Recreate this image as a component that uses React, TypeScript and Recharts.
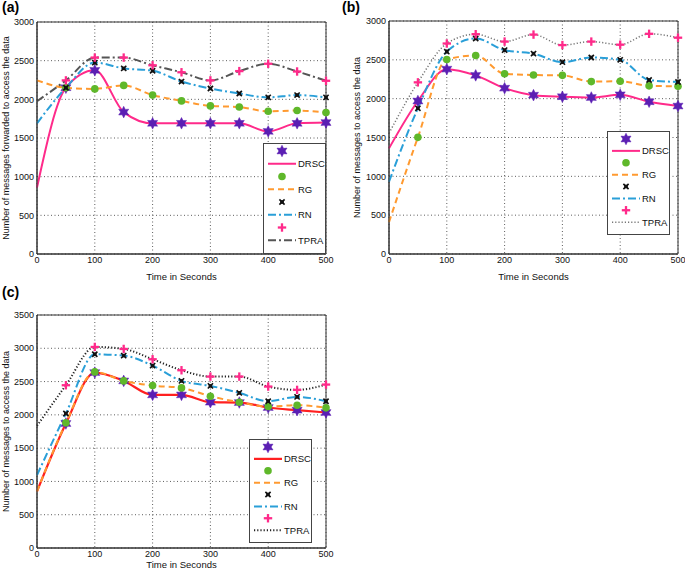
import React from 'react';
import { LineChart, Line, XAxis, YAxis, CartesianGrid, ReferenceArea, Label } from 'recharts';

const time = [0, 50, 100, 150, 200, 250, 300, 350, 400, 450, 500];
const xTicks = [0, 100, 200, 300, 400, 500];
const yTicksAB = [0, 500, 1000, 1500, 2000, 2500, 3000];
const yTicksC = [0, 500, 1000, 1500, 2000, 2500, 3000, 3500];
const seriesNames = ['DRSC', 'RG', 'RN', 'TPRA'];

const aDRSC = [860, 2150, 2375, 1835, 1690, 1690, 1690, 1690, 1585, 1690, 1700];
const aRG = [2245, 2150, 2135, 2180, 2055, 1980, 1915, 1900, 1845, 1855, 1830];
const aRN = [1690, 2150, 2475, 2400, 2370, 2230, 2140, 2075, 2025, 2055, 2025];
const aTPRA = [1975, 2245, 2540, 2540, 2440, 2350, 2245, 2365, 2460, 2360, 2240];

const bDRSC = [1360, 1970, 2380, 2300, 2135, 2045, 2025, 2015, 2050, 1960, 1905];
const bRG = [410, 1502, 2505, 2555, 2320, 2305, 2300, 2220, 2225, 2165, 2160];
const bRN = [930, 1876, 2605, 2775, 2625, 2580, 2470, 2530, 2500, 2240, 2215];
const bTPRA = [1555, 2210, 2710, 2830, 2735, 2825, 2690, 2735, 2695, 2835, 2785];

const cDRSC = [850, 1870, 2635, 2510, 2300, 2300, 2190, 2185, 2110, 2070, 2035];
const cRG = [850, 1880, 2645, 2510, 2440, 2405, 2280, 2190, 2125, 2145, 2105];
const cRN = [1095, 2020, 2910, 2890, 2740, 2510, 2435, 2330, 2205, 2270, 2205];
const cTPRA = [1835, 2445, 3020, 2990, 2835, 2670, 2575, 2575, 2425, 2375, 2455];

const build = (d: number[], g: number[], n: number[], t: number[]) =>
  time.map((x, i) => ({ x, DRSC: d[i], RG: g[i], RN: n[i], TPRA: t[i] }));

const dataA = build(aDRSC, aRG, aRN, aTPRA);
const dataB = build(bDRSC, bRG, bRN, bTPRA);
const dataC = build(cDRSC, cRG, cRN, cTPRA);

const FONT = '"Liberation Sans", Arial, sans-serif';
const PURPLE = '#5b1fb3';
const GREEN = '#5fb82a';
const PINK = '#ff2a8a';
const ORANGE = '#ff9a30';
const BLUE = '#2a9fd8';

type Kind = 'star' | 'circle' | 'x' | 'plus';

function Marker({ kind, cx, cy }: { kind: Kind; cx: number; cy: number }) {
  if (kind === 'star') {
    const pts: string[] = [];
    for (let i = 0; i < 12; i++) {
      const r = i % 2 === 0 ? 5.8 : 3.1;
      const a = (Math.PI / 6) * i - Math.PI / 2;
      pts.push(`${cx + r * Math.cos(a)},${cy + r * Math.sin(a)}`);
    }
    return <polygon points={pts.join(' ')} fill={PURPLE} stroke={PURPLE} strokeWidth={0.5} />;
  }
  if (kind === 'circle') return <circle cx={cx} cy={cy} r={3.8} fill={GREEN} />;
  if (kind === 'x')
    return (
      <g stroke="#111" strokeWidth={1.6}>
        <line x1={cx - 2.6} y1={cy - 2.6} x2={cx + 2.6} y2={cy + 2.6} />
        <line x1={cx - 2.6} y1={cy + 2.6} x2={cx + 2.6} y2={cy - 2.6} />
        <rect x={cx - 1.8} y={cy - 1.8} width={3.6} height={3.6} fill="#111" strokeWidth={0} />
      </g>
    );
  return (
    <g stroke={PINK} strokeWidth={2.3}>
      <line x1={cx - 4.2} y1={cy} x2={cx + 4.2} y2={cy} />
      <line x1={cx} y1={cy - 4.2} x2={cx} y2={cy + 4.2} />
    </g>
  );
}

const makeDot = (kind: Kind) => (p: any) => {
  const k = `${kind}-${p.index}`;
  if (p.index === 0 || p.cx == null || p.cy == null) return <g key={k} />;
  return (
    <g key={k}>
      <Marker kind={kind} cx={p.cx} cy={p.cy} />
    </g>
  );
};

type Style = { color: string; dash?: string; width: number };

function LegendBox({ styles, left, top, h }: { styles: Style[]; left: number; top: number; h: number }) {
  const kinds: Kind[] = ['star', 'circle', 'x', 'plus'];
  const w = 63;
  const rowH = (h - 9) / 8;
  return (
    <div style={{ position: 'absolute', left, top, width: w, height: h }}>
      <svg width={w} height={h} style={{ display: 'block' }}>
        <rect x={0.5} y={0.5} width={w - 1} height={h - 1} fill="#fff" stroke="#444" strokeWidth={1} />
        {seriesNames.map((name, i) => {
          const y1 = 8 + i * 2 * rowH;
          const y2 = y1 + rowH;
          const s = styles[i];
          return (
            <g key={name}>
              <Marker kind={kinds[i]} cx={19} cy={y1} />
              <line x1={5} y1={y2} x2={33} y2={y2} stroke={s.color} strokeWidth={s.width} strokeDasharray={s.dash} />
              <text x={35} y={y2 + 3.5} fontSize={9.5} fontFamily={FONT} fill="#111">
                {name}
              </text>
            </g>
          );
        })}
      </svg>
    </div>
  );
}

function Panel({
  data,
  left,
  top,
  width,
  height,
  margin,
  yMax,
  yTicks,
  yLabel,
  yLabelX,
  xLabelOffset,
  styles,
  tag,
}: {
  data: any[];
  left: number;
  top: number;
  width: number;
  height: number;
  margin: { top: number; right: number; left: number; bottom: number };
  yMax: number;
  yTicks: number[];
  yLabel: string;
  yLabelX: number;
  xLabelOffset: number;
  styles: Style[];
  tag: string;
}) {
  const kinds: Kind[] = ['star', 'circle', 'x', 'plus'];
  const tickStyle = { fontSize: 9, fontFamily: FONT, fill: '#111' };
  const plotBottom = height - 31 - margin.bottom;
  const midY = (margin.top + plotBottom) / 2;
  return (
    <div style={{ position: 'absolute', left, top, width, height }}>
      <LineChart width={width} height={height} data={data} margin={margin}>
        <CartesianGrid stroke="#333" strokeDasharray="1 2.5" strokeWidth={0.8} />
        <XAxis
          dataKey="x"
          type="number"
          domain={[0, 500]}
          ticks={xTicks}
          tickLine={false}
          tickSize={0}
          tickMargin={3}
          axisLine={{ stroke: '#333' }}
          tick={tickStyle}
          height={31}
          interval={0}
        >
          <Label value="Time in Seconds" position="insideBottom" offset={xLabelOffset} style={{ fontSize: 9.5, fontFamily: FONT, fill: '#111' }} />
        </XAxis>
        <YAxis
          type="number"
          domain={[0, yMax]}
          ticks={yTicks}
          tickLine={false}
          tickSize={0}
          tickMargin={3}
          axisLine={{ stroke: '#333' }}
          tick={tickStyle}
          width={30}
          interval={0}
        />
        <ReferenceArea x1={0} x2={500} y1={0} y2={yMax} fill="none" stroke="#333" strokeWidth={1} ifOverflow="visible" />
        {seriesNames.map((name, i) => (
          <Line
            key={name}
            dataKey={name}
            type="monotone"
            stroke={styles[i].color}
            strokeWidth={styles[i].width}
            strokeDasharray={styles[i].dash}
            dot={makeDot(kinds[i])}
            activeDot={false}
            isAnimationActive={false}
          />
        ))}
      </LineChart>
      <svg width={20} height={height} style={{ position: 'absolute', left: 0, top: 0, overflow: 'visible' }}>
        <text
          x={yLabelX}
          y={midY}
          transform={`rotate(-90 ${yLabelX} ${midY})`}
          textAnchor="middle"
          dominantBaseline="central"
          fontSize={9}
          fontFamily={FONT}
          fill="#111"
        >
          {yLabel}
        </text>
      </svg>
      <div
        style={{
          position: 'absolute',
          left: 2,
          top: 0,
          fontFamily: FONT,
          fontWeight: 'bold',
          fontSize: 14,
          lineHeight: '14px',
          color: '#000',
        }}
      >
        {tag}
      </div>
    </div>
  );
}

const stylesA: Style[] = [
  { color: PINK, width: 2 },
  { color: ORANGE, dash: '6 4', width: 2 },
  { color: BLUE, dash: '8 3 2 3', width: 2 },
  { color: '#555', dash: '8 3 2 3', width: 2 },
];
const stylesB: Style[] = [
  { color: PINK, width: 2 },
  { color: ORANGE, dash: '6 4', width: 2 },
  { color: BLUE, dash: '8 3 2 3', width: 2 },
  { color: '#777', dash: '1.2 2', width: 1.5 },
];
const stylesC: Style[] = [
  { color: '#ff2020', width: 2.2 },
  { color: ORANGE, dash: '6 4', width: 2 },
  { color: BLUE, dash: '8 3 2 3', width: 2 },
  { color: '#222', dash: '1.2 2', width: 2 },
];

export default function App() {
  return (
    <div style={{ position: 'absolute', left: 0, top: 0, width: 685, height: 571, background: '#fff', overflow: 'hidden' }}>
      <Panel
        data={dataA}
        left={0}
        top={0}
        width={340}
        height={285}
        margin={{ top: 22, right: 14, left: 7, bottom: 0 }}
        yMax={3000}
        yTicks={yTicksAB}
        yLabel="Number of messages forwarded to access the data"
        yLabelX={6}
        xLabelOffset={5}
        styles={stylesA}
        tag="(a)"
      />
      <LegendBox styles={stylesA} left={263} top={143} h={111} />
      <Panel
        data={dataB}
        left={340}
        top={0}
        width={345}
        height={285}
        margin={{ top: 21, right: 7, left: 19, bottom: 0 }}
        yMax={3000}
        yTicks={yTicksAB}
        yLabel="Number of messages to access the data"
        yLabelX={17}
        xLabelOffset={5}
        styles={stylesB}
        tag="(b)"
      />
      <LegendBox styles={stylesB} left={607} top={131} h={104} />
      <Panel
        data={dataC}
        left={0}
        top={285}
        width={340}
        height={286}
        margin={{ top: 30, right: 14, left: 7, bottom: -8 }}
        yMax={3500}
        yTicks={yTicksC}
        yLabel="Number of messages to access the data"
        yLabelX={6}
        xLabelOffset={11}
        styles={stylesC}
        tag="(c)"
      />
      <LegendBox styles={stylesC} left={249} top={439} h={104} />
    </div>
  );
}
